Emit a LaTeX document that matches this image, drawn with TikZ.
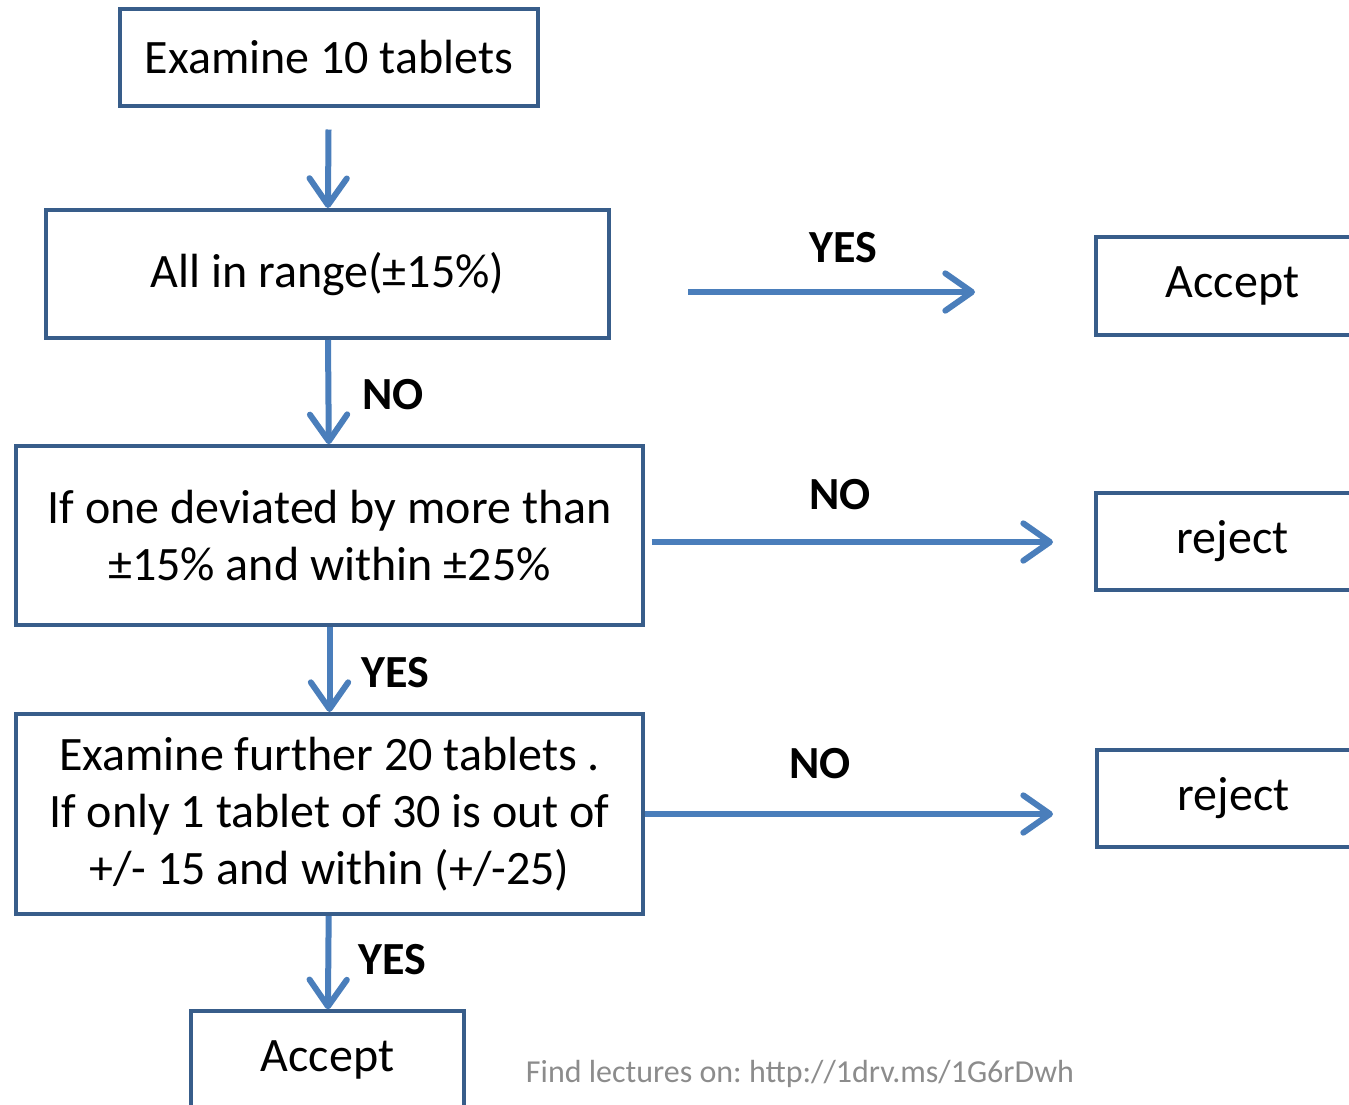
\documentclass[tikz,border=0pt]{standalone}
\usepackage{fontspec}
\setmainfont{Carlito}
\usepackage{tikz}
\usetikzlibrary{arrows.meta,positioning}
\usepackage{xcolor}
\definecolor{boxblue}{RGB}{56,93,138}
\definecolor{flowblue}{RGB}{74,126,187}
\definecolor{footgray}{RGB}{140,140,140}
\frenchspacing

\begin{document}
\begin{tikzpicture}[x=0.75pt, y=-0.75pt,
    box/.style={draw=boxblue, line width=3pt, align=center, inner sep=0pt,
        font=\fontsize{36}{43}\selectfont},
    smallbox/.style={box, minimum width=205pt, minimum height=73pt},
    flow/.style={draw=flowblue, line width=4.5pt,
        -{Straight Barb[length=20pt, width=28pt, round]}},
    lbl/.style={font=\fontsize{34.5}{40}\selectfont\bfseries}]
    \useasboundingbox (0,0) rectangle (1349,1104);
    \clip (0,0) rectangle (1349,1104);

    % Left column
    \node[box, minimum width=313pt, minimum height=73pt] (exam10) at (329,57.5) {Examine 10 tablets};
    \node[box, minimum width=422pt, minimum height=96pt] (range) at (327.5,274) {All in range(±15\%)};
    \node[box, minimum width=470pt, minimum height=134pt] (dev) at (329.5,535.5)
         {If one deviated by more than\\±15\% and within ±25\%};
    \node[box, minimum width=470pt, minimum height=150pt] (further) at (329.5,814)
         {Examine further 20 tablets .\\If only 1 tablet of 30 is out of\\+/- 15 and within (+/-25)};
    \node[smallbox] (acc) at (327.5,1060) {Accept};

    % Right column
    \node[smallbox] (accR) at (1232.5,286) {Accept};
    \node[smallbox] (rej1) at (1232.5,541.5) {reject};
    \node[smallbox] (rej2) at (1233.5,798.5) {reject};

    % Free arrow ends
    \coordinate (yesA) at (688,292);
    \coordinate (yesB) at (975,292);
    \coordinate (rej1tip) at (1053,542);
    \coordinate (rej2tip) at (1053,814);

    % Connectors
    \draw[flow, shorten <=16pt] (exam10) -- (range);
    \draw[flow] (range) -- (dev);
    \draw[flow] (dev) -- (further);
    \draw[flow] (further) -- (acc);
    \draw[flow] (yesA) -- (yesB);
    \draw[flow, shorten <=5pt] (dev.east |- rej1tip) -- (rej1tip);
    \draw[flow] (further.east |- rej2tip) -- (rej2tip);

    % Labels
    \node[lbl] (yes1) at (843,248) {YES};
    \node[lbl] (no1) at (393,395) {NO};
    \node[lbl] (no2) at (840,495) {NO};
    \node[lbl] (yes2) at (395,673) {YES};
    \node[lbl] (no3) at (820,764) {NO};
    \node[lbl] (yes3) at (392,960) {YES};

    % Footer
    \node[font=\fontsize{24}{29}\selectfont, text=footgray] (foot) at (800,1074)
         {Find lectures on: http://1drv.ms/1G6rDwh};
\end{tikzpicture}
\end{document}
